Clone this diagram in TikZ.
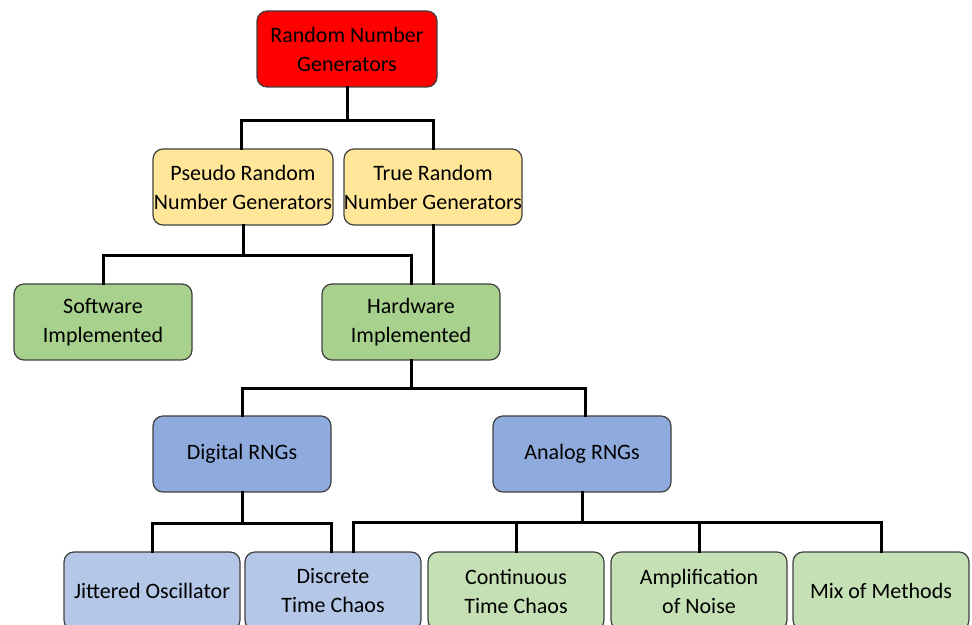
\documentclass[tikz,border=0pt]{standalone}
\usepackage{fontspec}
\setmainfont{Carlito}
\usetikzlibrary{positioning,calc}
\definecolor{rootred}{HTML}{FF0000}
\definecolor{kindyellow}{HTML}{FFE699}
\definecolor{implgreen}{HTML}{A9D18E}
\definecolor{typeblue}{HTML}{8FAADC}
\definecolor{leafblue}{HTML}{B4C7E7}
\definecolor{leafgreen}{HTML}{C5E0B4}
\definecolor{edgegray}{HTML}{404040}

\begin{document}
\begin{tikzpicture}[x=1pt,y=1pt,
    box/.style={draw=edgegray,line width=1.2pt,rounded corners=10pt,align=center,
      inner sep=0pt,minimum width=178pt,minimum height=76pt,
      font=\fontsize{22}{29}\selectfont},
    leaf/.style={box,minimum width=176pt,minimum height=78pt},
    conn/.style={line width=3pt,line cap=rect}]
    \useasboundingbox (0,0) rectangle (972,624);
    \clip (0,0) rectangle (972,624);
    \node[box,fill=rootred,minimum width=180pt] (top) at (347, 575) {Random Number\\Generators}; %root
    \node[box,fill=kindyellow,minimum width=180pt] (prng) at (243, 437) {Pseudo Random\\Number Generators};
    \node[box,fill=kindyellow] (trng) at (433, 437) {True Random\\Number Generators};
    \node[box,fill=implgreen] (sw) at (103, 302) {Software\\Implemented};
    \node[box,fill=implgreen] (hw) at (411, 302) {Hardware\\Implemented};
    \node[box,fill=typeblue] (dig) at (242, 170) {Digital RNGs};
    \node[box,fill=typeblue] (ana) at (582, 170) {Analog RNGs};
    \node[leaf,fill=leafblue] (jit) at (152, 33) {Jittered Oscillator};
    \node[leaf,fill=leafblue] (dtc) at (333, 33) {Discrete\\Time Chaos};
    \node[leaf,fill=leafgreen] (ctc) at (516, 33) {Continuous\\Time Chaos};
    \node[leaf,fill=leafgreen] (amp) at (699, 33) {Amplification\\of Noise};
    \node[leaf,fill=leafgreen] (mix) at (881, 33) {Mix of Methods};
    % tree lines
    \draw[conn] (top.south) -- ++(0,-33) -| ([xshift=-2pt]prng.north);
    \draw[conn] (top.south) -- ++(0,-33) -| (trng.north);
    \draw[conn] (prng.south) -- ++(0,-30) -| (sw.north);
    \draw[conn] (prng.south) -- ++(0,-30) -| (hw.north);
    \draw[conn] (trng.south) -- (trng.south |- hw.north);
    \draw[conn] (hw.south) -- ++(0,-28) -| (dig.north);
    \draw[conn] (hw.south) -- ++(0,-28) -| ([xshift=3pt]ana.north);
    \draw[conn] (dig.south) -- ++(0,-31) -| (jit.north);
    \draw[conn] (dig.south) -- ++(0,-31) -| ([xshift=-2pt]dtc.north);
    \draw[conn] (ana.south) -- ++(0,-30) -| ([xshift=20pt]dtc.north);
    \draw[conn] (ana.south) -- ++(0,-30) -| (ctc.north);
    \draw[conn] (ana.south) -- ++(0,-30) -| (amp.north);
    \draw[conn] (ana.south) -- ++(0,-30) -| (mix.north);
\end{tikzpicture}
\end{document}
